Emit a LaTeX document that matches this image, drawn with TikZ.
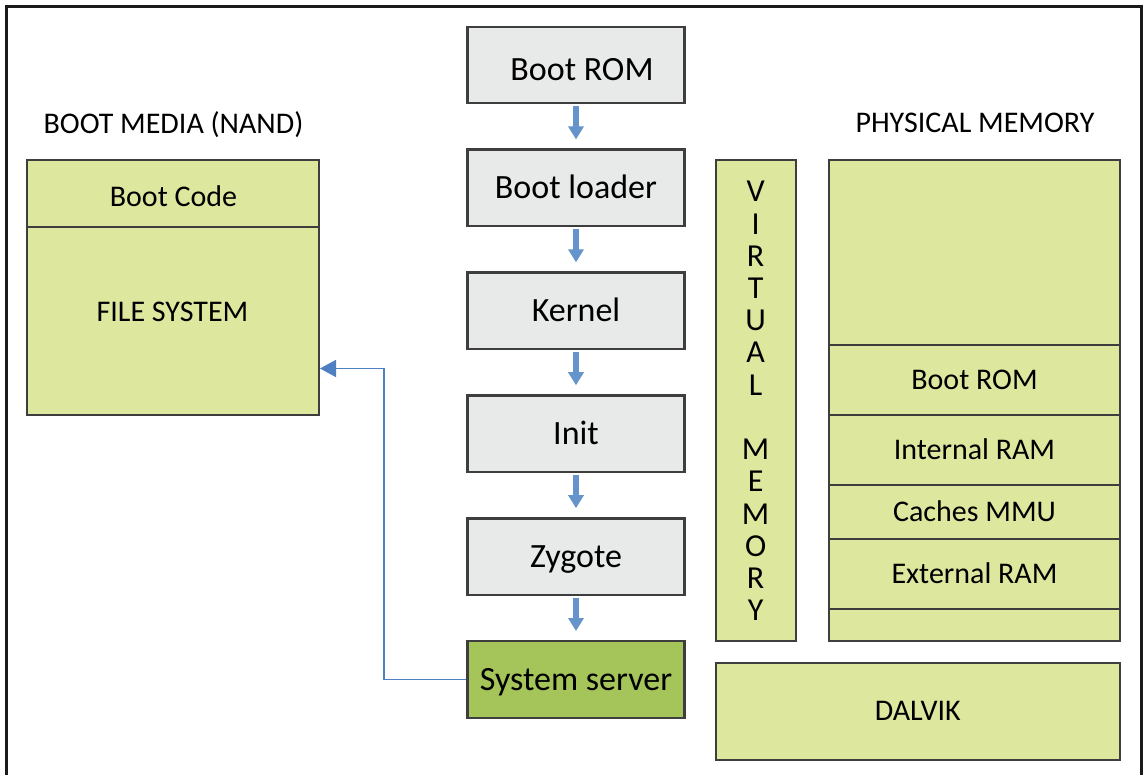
\documentclass[tikz,border=0pt]{standalone}
\usepackage{fontspec}
\setmainfont{Carlito}
\usetikzlibrary{arrows.meta}
\definecolor{framecol}{HTML}{1A1A1A}
\definecolor{stagegray}{HTML}{E8E9E9}
\definecolor{boxline}{HTML}{3E3E3E}
\definecolor{lightgreen}{HTML}{DDE79D}
\definecolor{darkgreen}{HTML}{A5C55A}
\definecolor{arrowblue}{HTML}{6494CB}
\definecolor{connblue}{HTML}{4F7FC3}
\begin{document}
\begin{tikzpicture}[x=1pt,y=-1pt,
  stagebox/.style={draw=boxline, line width=2.4pt, fill=stagegray, minimum width=217pt, minimum height=76.5pt, inner sep=0pt,
    font=\fontsize{34}{40}\selectfont, text height=21.5pt, text depth=0pt},
  stagetext/.style={inner sep=0pt, font=\fontsize{34}{40}\selectfont, text height=21.5pt, text depth=0pt},
  membox/.style={draw=boxline, line width=2pt, fill=lightgreen, inner sep=0pt,
    font=\fontsize{30}{36}\selectfont, text height=19pt, text depth=0pt},
  memtext/.style={inner sep=0pt, font=\fontsize{30}{36}\selectfont, text height=19pt, text depth=0pt},
  vmletter/.style={inner sep=0pt, anchor=base, font=\fontsize{32}{36}\selectfont},
  steparrow/.style={draw=arrowblue, line width=6pt, -{Triangle[width=15pt,length=13pt]}, shorten <=2pt, shorten >=9pt},
  conn/.style={draw=connblue, line width=1.6pt, -{Triangle[width=17pt,length=16pt]}}
]
\useasboundingbox (0,0) rectangle (1143,775);
% outer frame (open at the bottom)
\draw[framecol, line width=3pt] (6.5,775) -- (6.5,6.5) -- (1141.5,6.5) -- (1141.5,775);

% boot sequence
\node[stagebox] (br) at (576,65) {};
\node[stagetext] (brt) at (582,69.5) {Boot ROM};
\node[stagebox] (bl) at (576,187.9) {Boot loader};
\node[stagebox] (kn) at (576,310.8) {Kernel};
\node[stagebox] (in) at (576,433.7) {Init};
\node[stagebox] (zy) at (576,556.6) {Zygote};
\node[stagebox, fill=darkgreen] (ss) at (576,679.5) {System server};

\draw[steparrow] (br) -- (bl);
\draw[steparrow] (bl) -- (kn);
\draw[steparrow] (kn) -- (in);
\draw[steparrow] (in) -- (zy);
\draw[steparrow] (zy) -- (ss);

% boot media
\node[memtext] (bmt) at (173.5,124) {BOOT MEDIA (NAND)};
\node[membox, minimum width=292pt, minimum height=67pt] (bc) at (173,193.5) {};
\node[memtext] (bct) at (173.5,197.5) {Boot Code};
\node[membox, minimum width=292pt, minimum height=188pt] (fs) at (173,321) {};
\node[memtext] (fst) at (172.5,312.5) {FILE SYSTEM};

% connector system server -> file system
\draw[conn] (ss.west) -| (384,368.5) -- (fs.east |- 0,368.5);

% virtual memory
\node[membox, minimum width=80.2pt, minimum height=481pt] (vm) at (755.6,400.5) {};
\foreach \c [count=\i from 0] in {V,I,R,T,U,A,L}
  \node[vmletter] (vl\i) at (755.6,{202+32.2*\i}) {\c};
\foreach \c [count=\i from 8] in {M,E,M,O,R,Y}
  \node[vmletter] (vm\i) at (755.6,{202+32.2*\i}) {\c};

% physical memory
\node[memtext] (pmt) at (975,123) {PHYSICAL MEMORY};
\node[membox, minimum width=291pt, minimum height=185pt] (ptop) at (974.5,252.5) {};
\node[membox, minimum width=291pt, minimum height=70pt] (pbr) at (974.5,380) {Boot ROM};
\node[membox, minimum width=291pt, minimum height=70pt] (pir) at (974.5,450) {Internal RAM};
\node[membox, minimum width=291pt, minimum height=54pt] (pcm) at (974.5,512) {Caches MMU};
\node[membox, minimum width=291pt, minimum height=70pt] (per) at (974.5,574) {External RAM};
\node[membox, minimum width=291pt, minimum height=32pt] (pbt) at (974.5,625) {};

% dalvik
\node[membox, minimum width=404.5pt, minimum height=97.5pt] (dv) at (917.75,711.25) {DALVIK};
\end{tikzpicture}
\end{document}
